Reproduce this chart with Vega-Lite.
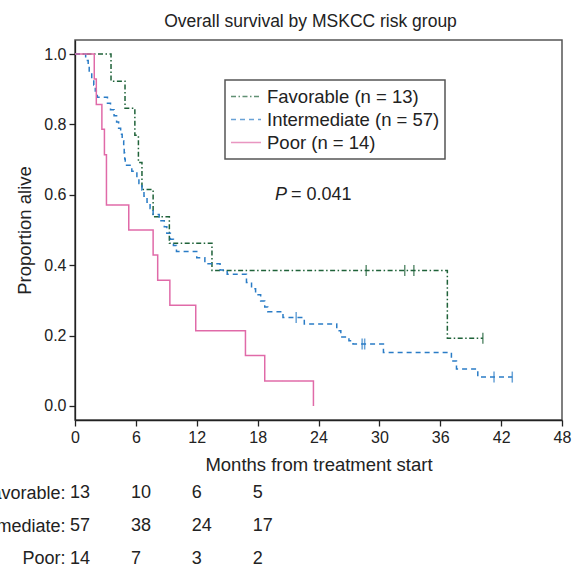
{
  "$schema": "https://vega.github.io/schema/vega-lite/v6.json",
  "padding": {"left": -41, "top": 11, "right": 0, "bottom": 0},
  "config": {
    "font": "Liberation Sans",
    "view": {"stroke": null},
    "axis": {"labelFontSize": 16, "titleFontSize": 18.5, "titleFontWeight": "normal", "labelColor": "#222", "titleColor": "#222", "domainColor": "#222", "tickColor": "#222", "domainWidth": 1.3, "tickWidth": 1.3, "grid": false, "labelFlush": false},
    "legend": {"strokeWidth": 1.5}
  },
  "datasets": {
    "curves": [
      {"group": "Favorable (n = 13)", "month": 0, "survival": 1.0},
      {"group": "Favorable (n = 13)", "month": 3.55, "survival": 0.923},
      {"group": "Favorable (n = 13)", "month": 4.93, "survival": 0.846},
      {"group": "Favorable (n = 13)", "month": 5.9, "survival": 0.769},
      {"group": "Favorable (n = 13)", "month": 6.25, "survival": 0.692},
      {"group": "Favorable (n = 13)", "month": 6.6, "survival": 0.615},
      {"group": "Favorable (n = 13)", "month": 7.7, "survival": 0.538},
      {"group": "Favorable (n = 13)", "month": 9.3, "survival": 0.462},
      {"group": "Favorable (n = 13)", "month": 13.5, "survival": 0.385},
      {"group": "Favorable (n = 13)", "month": 36.7, "survival": 0.192},
      {"group": "Favorable (n = 13)", "month": 40.2, "survival": 0.192},
      {"group": "Intermediate (n = 57)", "month": 0, "survival": 1.0},
      {"group": "Intermediate (n = 57)", "month": 1.05, "survival": 0.982},
      {"group": "Intermediate (n = 57)", "month": 1.3, "survival": 0.965},
      {"group": "Intermediate (n = 57)", "month": 1.4, "survival": 0.947},
      {"group": "Intermediate (n = 57)", "month": 1.65, "survival": 0.93},
      {"group": "Intermediate (n = 57)", "month": 1.85, "survival": 0.912},
      {"group": "Intermediate (n = 57)", "month": 2.0, "survival": 0.895},
      {"group": "Intermediate (n = 57)", "month": 2.2, "survival": 0.877},
      {"group": "Intermediate (n = 57)", "month": 3.2, "survival": 0.86},
      {"group": "Intermediate (n = 57)", "month": 3.5, "survival": 0.842},
      {"group": "Intermediate (n = 57)", "month": 3.85, "survival": 0.825},
      {"group": "Intermediate (n = 57)", "month": 4.1, "survival": 0.807},
      {"group": "Intermediate (n = 57)", "month": 4.3, "survival": 0.789},
      {"group": "Intermediate (n = 57)", "month": 4.5, "survival": 0.772},
      {"group": "Intermediate (n = 57)", "month": 4.65, "survival": 0.754},
      {"group": "Intermediate (n = 57)", "month": 4.8, "survival": 0.737},
      {"group": "Intermediate (n = 57)", "month": 4.85, "survival": 0.719},
      {"group": "Intermediate (n = 57)", "month": 4.9, "survival": 0.702},
      {"group": "Intermediate (n = 57)", "month": 4.95, "survival": 0.684},
      {"group": "Intermediate (n = 57)", "month": 5.6, "survival": 0.667},
      {"group": "Intermediate (n = 57)", "month": 6.1, "survival": 0.649},
      {"group": "Intermediate (n = 57)", "month": 6.3, "survival": 0.632},
      {"group": "Intermediate (n = 57)", "month": 6.6, "survival": 0.614},
      {"group": "Intermediate (n = 57)", "month": 6.8, "survival": 0.596},
      {"group": "Intermediate (n = 57)", "month": 7.1, "survival": 0.579},
      {"group": "Intermediate (n = 57)", "month": 7.4, "survival": 0.561},
      {"group": "Intermediate (n = 57)", "month": 7.7, "survival": 0.544},
      {"group": "Intermediate (n = 57)", "month": 8.3, "survival": 0.526},
      {"group": "Intermediate (n = 57)", "month": 8.8, "survival": 0.509},
      {"group": "Intermediate (n = 57)", "month": 9.05, "survival": 0.491},
      {"group": "Intermediate (n = 57)", "month": 9.4, "survival": 0.474},
      {"group": "Intermediate (n = 57)", "month": 9.7, "survival": 0.456},
      {"group": "Intermediate (n = 57)", "month": 10.0, "survival": 0.439},
      {"group": "Intermediate (n = 57)", "month": 12.0, "survival": 0.421},
      {"group": "Intermediate (n = 57)", "month": 12.8, "survival": 0.404},
      {"group": "Intermediate (n = 57)", "month": 14.3, "survival": 0.386},
      {"group": "Intermediate (n = 57)", "month": 15.0, "survival": 0.374},
      {"group": "Intermediate (n = 57)", "month": 16.9, "survival": 0.351},
      {"group": "Intermediate (n = 57)", "month": 17.4, "survival": 0.333},
      {"group": "Intermediate (n = 57)", "month": 17.8, "survival": 0.316},
      {"group": "Intermediate (n = 57)", "month": 18.3, "survival": 0.298},
      {"group": "Intermediate (n = 57)", "month": 18.7, "survival": 0.281},
      {"group": "Intermediate (n = 57)", "month": 19.0, "survival": 0.268},
      {"group": "Intermediate (n = 57)", "month": 20.5, "survival": 0.251},
      {"group": "Intermediate (n = 57)", "month": 22.6, "survival": 0.233},
      {"group": "Intermediate (n = 57)", "month": 25.8, "survival": 0.214},
      {"group": "Intermediate (n = 57)", "month": 26.2, "survival": 0.196},
      {"group": "Intermediate (n = 57)", "month": 27.0, "survival": 0.185},
      {"group": "Intermediate (n = 57)", "month": 27.4, "survival": 0.176},
      {"group": "Intermediate (n = 57)", "month": 30.4, "survival": 0.152},
      {"group": "Intermediate (n = 57)", "month": 37.1, "survival": 0.128},
      {"group": "Intermediate (n = 57)", "month": 37.6, "survival": 0.105},
      {"group": "Intermediate (n = 57)", "month": 39.7, "survival": 0.082},
      {"group": "Intermediate (n = 57)", "month": 43.1, "survival": 0.082},
      {"group": "Poor (n = 14)", "month": 0, "survival": 1.0},
      {"group": "Poor (n = 14)", "month": 1.9, "survival": 0.929},
      {"group": "Poor (n = 14)", "month": 2.1, "survival": 0.857},
      {"group": "Poor (n = 14)", "month": 2.65, "survival": 0.786},
      {"group": "Poor (n = 14)", "month": 2.9, "survival": 0.714},
      {"group": "Poor (n = 14)", "month": 3.1, "survival": 0.571},
      {"group": "Poor (n = 14)", "month": 5.3, "survival": 0.5},
      {"group": "Poor (n = 14)", "month": 7.7, "survival": 0.429},
      {"group": "Poor (n = 14)", "month": 8.15, "survival": 0.357},
      {"group": "Poor (n = 14)", "month": 9.35, "survival": 0.286},
      {"group": "Poor (n = 14)", "month": 11.9, "survival": 0.214},
      {"group": "Poor (n = 14)", "month": 16.8, "survival": 0.143},
      {"group": "Poor (n = 14)", "month": 18.7, "survival": 0.071},
      {"group": "Poor (n = 14)", "month": 23.5, "survival": 0.0}
    ],
    "censor": [
      {"group": "Favorable (n = 13)", "month": 28.7, "survival": 0.385},
      {"group": "Favorable (n = 13)", "month": 32.5, "survival": 0.385},
      {"group": "Favorable (n = 13)", "month": 33.4, "survival": 0.385},
      {"group": "Favorable (n = 13)", "month": 40.2, "survival": 0.192},
      {"group": "Intermediate (n = 57)", "month": 21.8, "survival": 0.251},
      {"group": "Intermediate (n = 57)", "month": 28.3, "survival": 0.176},
      {"group": "Intermediate (n = 57)", "month": 28.55, "survival": 0.176},
      {"group": "Intermediate (n = 57)", "month": 41.3, "survival": 0.082},
      {"group": "Intermediate (n = 57)", "month": 43.1, "survival": 0.082}
    ],
    "pval": [{"month": 20.9, "survival": 0.6}],
    "risk": [
      {"group": "Favorable", "month": 0, "n": 13},
      {"group": "Favorable", "month": 6, "n": 10},
      {"group": "Favorable", "month": 12, "n": 6},
      {"group": "Favorable", "month": 18, "n": 5},
      {"group": "Intermediate", "month": 0, "n": 57},
      {"group": "Intermediate", "month": 6, "n": 38},
      {"group": "Intermediate", "month": 12, "n": 24},
      {"group": "Intermediate", "month": 18, "n": 17},
      {"group": "Poor", "month": 0, "n": 14},
      {"group": "Poor", "month": 6, "n": 7},
      {"group": "Poor", "month": 12, "n": 3},
      {"group": "Poor", "month": 18, "n": 2}
    ]
  },
  "spacing": 2,
  "vconcat": [
    {
      "width": 487,
      "height": 380,
      "title": {"text": "Overall survival by MSKCC risk group", "fontSize": 17.5, "fontWeight": "normal", "color": "#222", "frame": "group", "offset": 10, "dx": -8},
      "view": {"stroke": "#555", "strokeWidth": 1.5},
      "layer": [
        {
          "data": {"name": "curves"},
          "mark": {"type": "line", "interpolate": "step-after", "strokeWidth": 1.5},
          "encoding": {
            "x": {"field": "month", "type": "quantitative", "scale": {"domain": [0, 48], "nice": false, "zero": false}, "axis": {"values": [0, 6, 12, 18, 24, 30, 36, 42, 48], "title": "Months from treatment start", "tickSize": 6, "labelPadding": 3, "titlePadding": 10}},
            "y": {"field": "survival", "type": "quantitative", "scale": {"domain": [-0.04, 1.04], "nice": false, "zero": false}, "axis": {"values": [0, 0.2, 0.4, 0.6, 0.8, 1.0], "format": ".1f", "title": "Proportion alive", "tickSize": 6, "labelPadding": 3, "titlePadding": 9}},
            "color": {"field": "group", "type": "nominal", "scale": {"domain": ["Favorable (n = 13)", "Intermediate (n = 57)", "Poor (n = 14)"], "range": ["#1f6239", "#2a7cc6", "#e06aa8"]}, "legend": {"title": null, "orient": "none", "legendX": 150, "legendY": 40, "symbolType": "stroke", "symbolSize": 900, "symbolStrokeWidth": 1.5, "labelFontSize": 18.5, "labelColor": "#222", "labelLimit": 300, "labelOffset": 5, "strokeColor": "#555", "fillColor": "white", "padding": 5, "rowPadding": 0, "clipHeight": 23}},
            "strokeDash": {"field": "group", "type": "nominal", "scale": {"domain": ["Favorable (n = 13)", "Intermediate (n = 57)", "Poor (n = 14)"], "range": [[5, 2.5, 1.5, 2.5], [5, 4], [1, 0]]}, "legend": {"title": null, "orient": "none", "legendX": 150, "legendY": 40, "symbolType": "stroke", "symbolSize": 900, "symbolStrokeWidth": 1.5, "labelFontSize": 18.5, "labelColor": "#222", "labelLimit": 300, "labelOffset": 5, "strokeColor": "#555", "fillColor": "white", "padding": 5, "rowPadding": 0, "clipHeight": 23}}
          }
        },
        {
          "data": {"name": "censor"},
          "mark": {"type": "tick", "orient": "vertical", "size": 11, "thickness": 1.5},
          "encoding": {
            "x": {"field": "month", "type": "quantitative"},
            "y": {"field": "survival", "type": "quantitative"},
            "color": {"field": "group", "type": "nominal"}
          }
        },
        {
          "data": {"name": "pval"},
          "mark": {"type": "text", "text": "P", "fontStyle": "italic", "align": "right", "fontSize": 18, "color": "#222"},
          "encoding": {
            "x": {"field": "month", "type": "quantitative"},
            "y": {"field": "survival", "type": "quantitative"}
          }
        },
        {
          "data": {"name": "pval"},
          "mark": {"type": "text", "text": "= 0.041", "align": "left", "dx": 4, "fontSize": 18, "color": "#222"},
          "encoding": {
            "x": {"field": "month", "type": "quantitative"},
            "y": {"field": "survival", "type": "quantitative"}
          }
        }
      ]
    },
    {
      "width": 487,
      "height": 98,
      "data": {"name": "risk"},
      "mark": {"type": "text", "align": "left", "dx": -5, "fontSize": 18, "color": "#222"},
      "encoding": {
        "x": {"field": "month", "type": "quantitative", "scale": {"domain": [0, 48], "nice": false, "zero": false}, "axis": null},
        "y": {"field": "group", "type": "ordinal", "sort": ["Favorable", "Intermediate", "Poor"], "scale": {"type": "point", "padding": 0.5}, "axis": {"title": null, "domain": false, "ticks": false, "labelFontSize": 18, "labelPadding": 10, "labelExpr": "datum.value + ':'"}},
        "text": {"field": "n", "type": "quantitative"}
      }
    }
  ]
}
